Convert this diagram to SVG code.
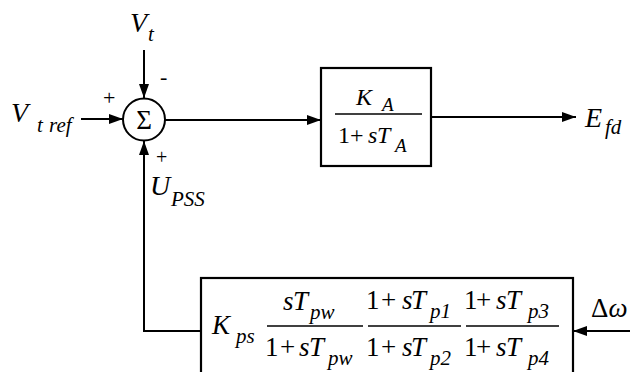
<svg xmlns="http://www.w3.org/2000/svg" width="641" height="372" viewBox="0 0 641 372" font-family="'Liberation Serif', 'Times New Roman', serif">
<style>
text{font-family:"Liberation Serif","Times New Roman",serif;fill:#000}
.i{font-style:italic}
.m{font-size:24px}
.p{font-size:27px}
.l{font-size:28px;font-style:italic}
.s{font-size:19px;font-style:italic}
.q{font-size:21px;font-style:italic}
.w{stroke:#000;stroke-width:2;fill:none}
.f{stroke:#000;stroke-width:1.3;fill:none}
.b{stroke:#000;stroke-width:2.2;fill:#fff}
</style>
<defs>
<marker id="ah" viewBox="0 0 14 10" refX="14" refY="5" markerWidth="14" markerHeight="10" markerUnits="userSpaceOnUse" orient="auto">
<path d="M0,0 L14,5 L0,10 Z" fill="#000"/>
</marker>
</defs>
<rect width="641" height="372" fill="#fff"/>
<g id="connectors">
<line class="w" x1="144" y1="50" x2="144" y2="98" marker-end="url(#ah)"/>
<line class="w" x1="81" y1="119" x2="123" y2="119" marker-end="url(#ah)"/>
<line class="w" x1="165" y1="120" x2="321" y2="120" marker-end="url(#ah)"/>
<line class="w" x1="431" y1="117" x2="576" y2="117" marker-end="url(#ah)"/>
<polyline class="w" points="201,331 144,331 144,141" marker-end="url(#ah)"/>
<line class="w" x1="630" y1="331" x2="573" y2="331" marker-end="url(#ah)"/>
</g>
<g id="sum">
<circle cx="144" cy="119.5" r="21" class="w"/>
<text x="144" y="129" font-size="27" text-anchor="middle">Σ</text>
<text x="160" y="84" font-size="22">-</text>
<text x="103" y="105" font-size="22">+</text>
<text x="156" y="164" font-size="20">+</text>
</g>
<g id="vt">
<text class="l" x="130" y="32">V</text><text class="q" x="148" y="41">t</text>
</g>
<g id="vtref">
<text class="l" x="11" y="122">V</text><text class="q" x="37" y="132">t</text><text class="q" x="49" y="132">ref</text>
</g>
<g id="upss">
<text class="l" x="150" y="195">U</text><text class="q" x="171" y="206">PSS</text>
</g>
<g id="efd">
<text class="l" x="585" y="127">E</text><text class="q" x="605" y="134">fd</text>
</g>
<g id="dw">
<text class="p" x="591" y="317">Δ<tspan class="i">ω</tspan></text>
</g>
<g id="exciter">
<rect class="b" x="321" y="68" width="110" height="98"/>
<line class="f" x1="335" y1="114" x2="422" y2="114"/>
<text class="m i" x="356" y="105">K</text><text class="s" x="382" y="111">A</text>
<text class="m" x="338" y="143">1</text><text class="m" x="350" y="143">+</text><text class="m i" x="368" y="143">s</text><text class="m i" x="377" y="143">T</text><text class="s" x="395" y="152">A</text>
</g>
<g id="pss">
<rect class="b" x="201" y="278" width="372" height="110"/>
<line class="f" x1="267" y1="326" x2="363" y2="326"/>
<line class="f" x1="368" y1="326" x2="461" y2="326"/>
<line class="f" x1="466" y1="326" x2="559" y2="326"/>
<text class="p i" x="212" y="334">K</text><text class="q" x="236" y="343">ps</text>
<text class="p i" x="283" y="310">s</text><text class="p i" x="293" y="310">T</text><text class="q" x="310" y="319">pw</text>
<text class="p" x="265" y="356">1</text><text class="p" x="280" y="356">+</text><text class="p i" x="299" y="356">s</text><text class="p i" x="309" y="356">T</text><text class="q" x="328" y="365">pw</text>
<text class="p" x="366" y="309">1</text><text class="p" x="381" y="309">+</text><text class="p i" x="402" y="309">s</text><text class="p i" x="411" y="309">T</text><text class="q" x="430" y="318">p1</text>
<text class="p" x="366" y="356">1</text><text class="p" x="381" y="356">+</text><text class="p i" x="402" y="356">s</text><text class="p i" x="411" y="356">T</text><text class="q" x="430" y="365">p2</text>
<text class="p" x="464" y="309">1</text><text class="p" x="476" y="309">+</text><text class="p i" x="496" y="309">s</text><text class="p i" x="506" y="309">T</text><text class="q" x="528" y="318">p3</text>
<text class="p" x="464" y="356">1</text><text class="p" x="476" y="356">+</text><text class="p i" x="496" y="356">s</text><text class="p i" x="506" y="356">T</text><text class="q" x="528" y="365">p4</text>
</g>
</svg>
